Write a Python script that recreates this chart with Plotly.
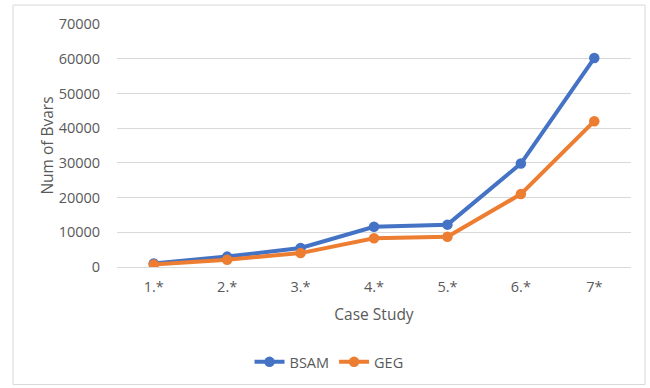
import plotly.graph_objects as go

# Case studies and number of Boolean variables per approach
case_labels = ["1.*", "2.*", "3.*", "4.*", "5.*", "6.*", "7*"]
bsam_bvars = [1000, 3000, 5500, 11600, 12200, 29800, 60200]
geg_bvars = [700, 2100, 4000, 8300, 8700, 21000, 42000]

BLUE = "#4472C4"
ORANGE = "#ED7D31"
TEXT = "#595959"
GRID = "#D9D9D9"
FONT = "Open Sans"

fig = go.Figure()
fig.add_trace(go.Scatter(
    x=case_labels, y=bsam_bvars, name="BSAM", mode="lines+markers",
    line=dict(color=BLUE, width=4), marker=dict(color=BLUE, size=10.5),
))
fig.add_trace(go.Scatter(
    x=case_labels, y=geg_bvars, name="GEG", mode="lines+markers",
    line=dict(color=ORANGE, width=4), marker=dict(color=ORANGE, size=10.5),
))

fig.update_layout(
    width=650, height=388,
    margin=dict(l=117, r=19, t=24, b=120),
    paper_bgcolor="white", plot_bgcolor="white",
    font=dict(family=FONT, size=14, color=TEXT),
    showlegend=True,
    legend=dict(
        orientation="h", x=0.4125, y=-0.385, xanchor="center", yanchor="middle",
        font=dict(size=14.5, color=TEXT), itemwidth=30,
    ),
    shapes=[dict(
        type="rect", xref="paper", yref="paper",
        x0=-0.2023, x1=1.0272, y0=-0.4836, y1=1.0779,
        line=dict(color=GRID, width=1), layer="below",
    )],
)

fig.update_xaxes(
    type="category", range=[-0.5, 6.5],
    showgrid=False, showline=True, linecolor=GRID, linewidth=1,
    ticks="outside", ticklen=7, tickcolor="rgba(0,0,0,0)",
    tickfont=dict(size=14.5, color=TEXT),
    title=dict(text="Case Study", font=dict(size=15.5, color=TEXT), standoff=13),
)
fig.update_yaxes(
    range=[0, 70000], tickvals=[0, 10000, 20000, 30000, 40000, 50000, 60000, 70000],
    tickformat="d",
    showgrid=True, gridcolor=GRID, gridwidth=1,
    zeroline=False, showline=False,
    ticks="outside", ticklen=13, tickcolor="rgba(0,0,0,0)",
    tickfont=dict(size=14.5, color=TEXT),
    title=dict(text="Num of Bvars", font=dict(size=15.5, color=TEXT), standoff=1),
)

fig.write_html("out.html")
